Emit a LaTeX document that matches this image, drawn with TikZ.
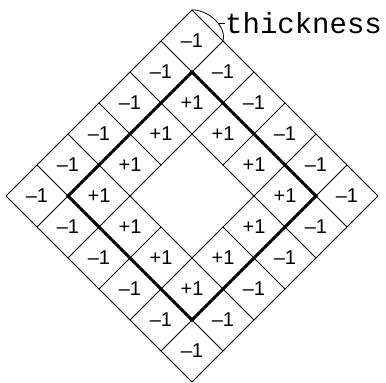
\documentclass[tikz,border=0pt]{standalone}
\usepackage{fontspec}
\setmainfont{Liberation Sans}
\newfontfamily\monofnt{Liberation Mono}
\begin{document}
\begin{tikzpicture}[x=1pt,y=1pt,
  gridline/.style={line width=0.8pt,black},
  ringline/.style={line width=3pt,black,line join=miter},
  lab/.style={inner sep=0pt,font=\fontsize{20}{20}\selectfont},
  tlab/.style={inner sep=0pt,anchor=base west,font=\monofnt\fontsize{29}{29}\selectfont}]
\useasboundingbox (0,0) rectangle (386,-383);
\begin{scope}[shift={(192,-10)},x={(31pt,-31pt)},y={(-31pt,-31pt)}]
  % grid lines
  \foreach \k in {0,1,2,4,5,6}{
    \draw[gridline] (\k,0) -- (\k,6);
    \draw[gridline] (0,\k) -- (6,\k);
  }
  \draw[gridline] (3,0) -- (3,2) (3,4) -- (3,6) (0,3) -- (2,3) (4,3) -- (6,3);
  % thick boundary
  \draw[ringline] (1,1) -- (5,1) -- (5,5) -- (1,5) -- cycle;
  % labels
  \foreach \i in {0,...,5}{
    \foreach \j in {0,...,5}{
      \pgfmathtruncatemacro\outer{(\i==0)||(\i==5)||(\j==0)||(\j==5)}
      \pgfmathtruncatemacro\inner{(\i==1)||(\i==4)||(\j==1)||(\j==4)}
      \ifnum\outer=1
        \node[lab] (m\i\j) at (\i+0.5,\j+0.5) {\textendash1};
      \else\ifnum\inner=1
        \node[lab] (p\i\j) at (\i+0.5,\j+0.5) {+1};
      \fi\fi
    }
  }
  \coordinate (tA) at (0,0);
  \coordinate (tB) at (1,0);
\end{scope}
% thickness bracket
\draw[gridline] (tA) .. controls (206,-9) and (227,-25) .. (tB);
\node[tlab] (thk) at (225,-33) {thickness};
\coordinate (lead) at (218.8,-23);
\draw[gridline] (lead) -- (lead -| thk.west);
\end{tikzpicture}
\end{document}
